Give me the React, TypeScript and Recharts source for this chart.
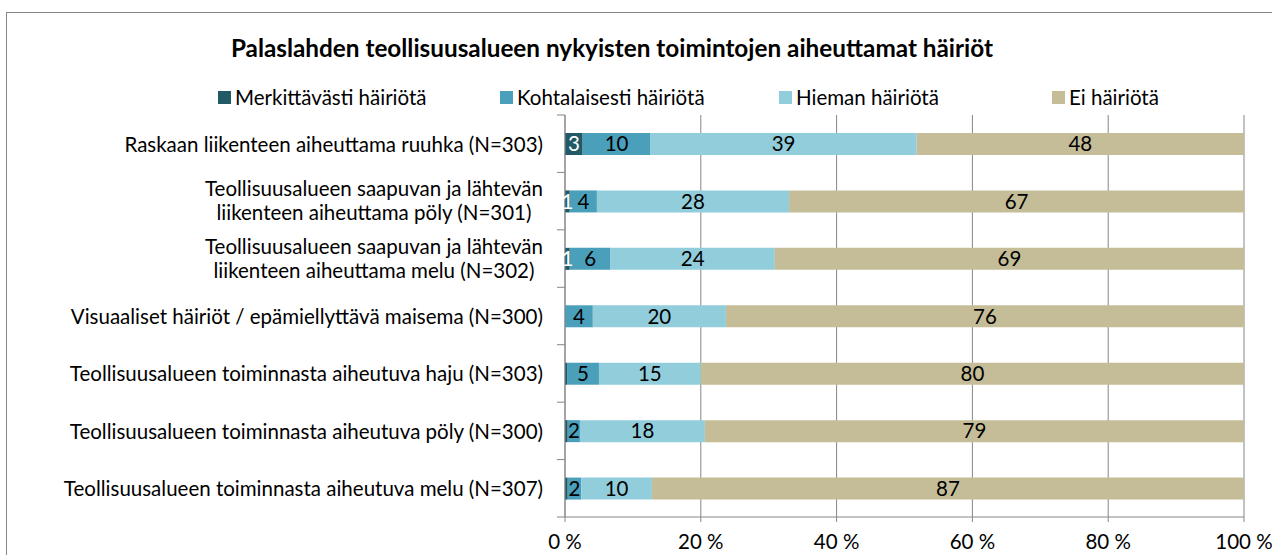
import { BarChart, Bar, XAxis, YAxis, CartesianGrid, Legend, LabelList } from 'recharts';

// Palaslahden teollisuusalue: häiriöiden kokeminen, 100 % pinottu vaakapalkki.

const CATEGORIES = [
  'Raskaan liikenteen aiheuttama ruuhka (N=303)',
  'Teollisuusalueen saapuvan ja lähtevän\nliikenteen aiheuttama pöly (N=301)',
  'Teollisuusalueen saapuvan ja lähtevän\nliikenteen aiheuttama melu (N=302)',
  'Visuaaliset häiriöt / epämiellyttävä maisema (N=300)',
  'Teollisuusalueen toiminnasta aiheutuva haju (N=303)',
  'Teollisuusalueen toiminnasta aiheutuva pöly (N=300)',
  'Teollisuusalueen toiminnasta aiheutuva melu (N=307)',
];

const MERKITTAVASTI = [2.6, 0.7, 0.7, 0, 0.3, 0.4, 0.4];
const KOHTALAISESTI = [10.0, 4.0, 6.0, 4.1, 4.7, 1.8, 2.0];
const HIEMAN = [39.2, 28.3, 24.2, 19.6, 15.0, 18.4, 10.4];
const EI = [48.2, 67.0, 69.1, 76.3, 80.0, 79.4, 87.2];

const X_TICKS = [0, 20, 40, 60, 80, 100];

const SERIES = [
  { key: 'merk', name: 'Merkittävästi häiriötä', color: '#215967', label: '#ffffff', w: 282 },
  { key: 'kohta', name: 'Kohtalaisesti häiriötä', color: '#4A9FBB', label: '#000000', w: 279 },
  { key: 'hiem', name: 'Hieman häiriötä', color: '#92CDDC', label: '#000000', w: 273 },
  { key: 'ei', name: 'Ei häiriötä', color: '#C4BD97', label: '#000000', w: 200 },
];

const data = CATEGORIES.map((name, i) => ({
  name,
  merk: MERKITTAVASTI[i],
  kohta: KOHTALAISESTI[i],
  hiem: HIEMAN[i],
  ei: EI[i],
}));

const FONT = "Lato, Carlito, Calibri, sans-serif";
const FS = 20.5;
const GRAY = '#868686';

let ctx: CanvasRenderingContext2D | null = null;
function textWidth(s: string, size: number) {
  if (!ctx) ctx = document.createElement('canvas').getContext('2d');
  if (!ctx) return s.length * size * 0.5;
  ctx.font = `${size}px ${FONT}`;
  return ctx.measureText(s).width;
}

function CategoryTick(props: any) {
  const { x, y, payload, index } = props;
  const half = payload.offset || 28.7;
  const lines: string[] = String(payload.value).split('\n');
  const right = x - 22;
  const widest = Math.max(...lines.map((l) => textWidth(l, FS)));
  const cx = right - widest / 2;
  const startY = lines.length > 1 ? y - 13 : y;
  return (
    <g>
      {index === 0 && <line x1={x - 8} x2={x} y1={y - half} y2={y - half} stroke={GRAY} />}
      <line x1={x - 8} x2={x} y1={y + half} y2={y + half} stroke={GRAY} />
      {lines.map((l, i) => (
        <text
          key={i}
          x={lines.length > 1 ? cx : right}
          y={startY + i * 24}
          textAnchor={lines.length > 1 ? 'middle' : 'end'}
          dominantBaseline="central"
          fontSize={FS}
          fontFamily={FONT}
          fill="#000"
        >
          {l}
        </text>
      ))}
    </g>
  );
}

function LegendRow() {
  return (
    <div style={{ display: 'flex', paddingLeft: 218, height: 22, alignItems: 'center', fontFamily: FONT, fontSize: FS, color: '#000' }}>
      {SERIES.map((s) => (
        <div key={s.key} style={{ width: s.w, flexShrink: 0, display: 'flex', alignItems: 'center', whiteSpace: 'nowrap' }}>
          <span style={{ width: 13, height: 13, background: s.color, marginRight: 4, display: 'inline-block' }} />
          <span>{s.name}</span>
        </div>
      ))}
    </div>
  );
}

const fmt = (v: any) => (Number(v) >= 0.5 ? String(Math.round(Number(v))) : '');

export default function App() {
  return (
    <div style={{ position: 'absolute', left: 0, top: 0, width: 1272, height: 555, overflow: 'hidden', background: '#fff' }}>
      <div style={{ position: 'absolute', left: 6, top: 12, width: 1300, height: 600, border: `1px solid ${GRAY}` }} />
      <div
        style={{
          position: 'absolute',
          left: 0,
          top: 34,
          width: 1224,
          textAlign: 'center',
          fontFamily: FONT,
          fontWeight: 'bold',
          fontSize: 24.3,
          lineHeight: '28px',
          color: '#000',
          whiteSpace: 'nowrap',
        }}
      >
        Palaslahden teollisuusalueen nykyisten toimintojen aiheuttamat häiriöt
      </div>
      <div style={{ position: 'absolute', left: 0, top: 0 }}>
        <BarChart
          width={1272}
          height={555}
          data={data}
          layout="vertical"
          margin={{ top: 93, right: 28, bottom: 8, left: 0 }}
          barSize={22}
        >
          <CartesianGrid horizontal={false} stroke={GRAY} strokeOpacity={1} />
          <XAxis
            type="number"
            domain={[0, 100]}
            ticks={X_TICKS}
            tickFormatter={(v) => `${v} %`}
            axisLine={{ stroke: GRAY }}
            tickLine={{ stroke: GRAY }}
            tickSize={5}
            tickMargin={12}
            height={30}
            tick={{ fontSize: FS, fontFamily: FONT, fill: '#000' }}
          />
          <YAxis
            type="category"
            dataKey="name"
            width={565}
            axisLine={{ stroke: GRAY }}
            tickLine={false}
            tickSize={0}
            tickMargin={0}
            interval={0}
            tick={<CategoryTick />}
          />
          <Legend verticalAlign="top" content={<LegendRow />} wrapperStyle={{ top: 86, left: 0, width: 1272 }} />
          {SERIES.map((s) => (
            <Bar key={s.key} dataKey={s.key} name={s.name} stackId="a" fill={s.color} isAnimationActive={false}>
              <LabelList
                dataKey={s.key}
                position="center"
                formatter={fmt}
                fill={s.label}
                fontSize={FS}
                fontFamily={FONT}
              />
            </Bar>
          ))}
        </BarChart>
      </div>
    </div>
  );
}
